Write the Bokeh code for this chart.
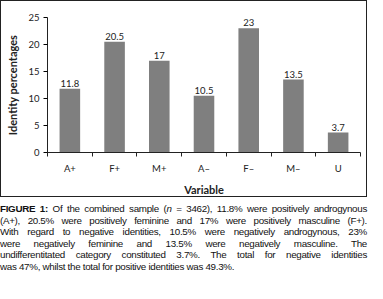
from bokeh.plotting import figure
from bokeh.models import Range1d, FixedTicker, Div, ColumnDataSource
from bokeh.layouts import column
from bokeh.core.properties import value
from bokeh.embed import file_html
from bokeh.resources import INLINE

categories = ["A+", "F+", "M+", "A–", "F–", "M–", "U"]
percentages = [11.8, 20.5, 17, 10.5, 23, 13.5, 3.7]
value_labels = ["11.8", "20.5", "17", "10.5", "23", "13.5", "3.7"]
y_ticks = [0, 5, 10, 15, 20, 25]

caption_lines = [
    '<b>FIGURE 1:</b> Of the combined sample (<i>n</i> = 3462), 11.8% were positively androgynous',
    '(A+), 20.5% were positively feminine and 17% were positively masculine (F+).',
    'With regard to negative identities, 10.5% were negatively androgynous, 23%',
    'were negatively feminine and 13.5% were negatively masculine. The',
    'undifferentitated category constituted 3.7%. The total for negative identities',
    'was 47%, whilst the total for positive identities was 49.3%.',
]

xpos = [i + 0.5 for i in range(len(categories))]
src = ColumnDataSource(dict(x=xpos, top=percentages, label=value_labels))

FONT = "Lato"
p = figure(width=367, height=197, x_range=Range1d(0, 7), y_range=Range1d(0, 25),
           output_backend="svg", toolbar_location=None,
           min_border_left=46, min_border_right=8, min_border_top=16, min_border_bottom=42)
p.styles = {"border": "1px solid #222", "box-sizing": "border-box"}
p.outline_line_color = None
p.xgrid.visible = False
p.ygrid.visible = False

p.vbar(x="x", top="top", width=0.46, bottom=0, source=src,
       fill_color="#7f7f7f", line_color=None)
p.text(x="x", y="top", text="label", source=src, text_align="center",
       text_baseline="bottom", y_offset=-2, text_font=value(FONT),
       text_font_size="9.5px", text_color="#222222")

p.xaxis.ticker = FixedTicker(ticks=xpos, minor_ticks=list(range(len(categories) + 1)))
p.xaxis.major_label_overrides = {x: c for x, c in zip(xpos, categories)}
p.xaxis.major_tick_line_color = None
p.xaxis.minor_tick_out = 4
p.xaxis.minor_tick_in = 0
p.xaxis.minor_tick_line_color = "#222222"
p.xaxis.axis_label = "Variable"

p.yaxis.ticker = FixedTicker(ticks=y_ticks, minor_ticks=[])
p.yaxis.major_tick_out = 4
p.yaxis.major_tick_in = 0
p.yaxis.axis_label = "Identity percentages"

for ax in (p.xaxis[0], p.yaxis[0]):
    ax.axis_line_color = "#222222"
    ax.major_label_text_font = FONT
    ax.major_label_text_font_size = "9.5px"
    ax.major_label_text_color = "#222222"
    ax.axis_label_text_font = FONT
    ax.axis_label_text_font_size = "11px"
    ax.axis_label_text_font_style = "bold"
    ax.axis_label_text_color = "#222222"
    ax.axis_label_standoff = 6
    ax.major_label_standoff = 4

html = "".join(
    '<div style="width:367px;text-align:justify;text-align-last:%s">%s</div>' % ("justify" if i < len(caption_lines) - 1 else "left", l)
    for i, l in enumerate(caption_lines)
)
cap = Div(text=html, width=367, height=72, margin=(6, 0, 0, 0),
          styles={"font-family": "'Liberation Sans', sans-serif",
                  "font-size": "9.8px", "letter-spacing": "-0.3px",
                  "line-height": "11.5px", "color": "#111"})

layout = column(p, cap, spacing=0)
open("out.html", "w").write(file_html(layout, INLINE))
